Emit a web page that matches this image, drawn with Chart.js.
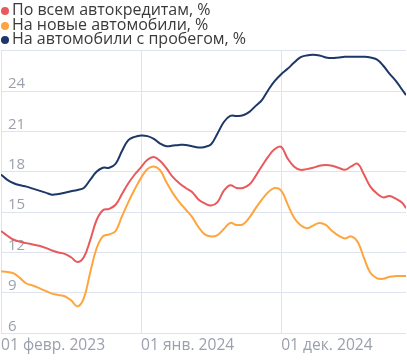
<!DOCTYPE html>
<html>
<head>
<meta charset="utf-8">
<script src="https://cdn.jsdelivr.net/npm/chart.js@4.4.1/dist/chart.umd.min.js"></script>
<style>
  html, body { margin: 0; padding: 0; background: #fff; }
  #wrap { position: relative; width: 407px; height: 360px; }
  #legend { position: absolute; left: 0; top: 2px; font-family: "Open Sans", sans-serif; font-size: 16px; color: #3a3a3a; line-height: 14.6px; }
  #legend div { white-space: nowrap; height: 14.6px; }
  #legend span.dot { display: inline-block; width: 8px; height: 8px; border-radius: 50%; margin: 0 3px 0 1px; vertical-align: 0px; }
</style>
</head>
<body>
<div id="wrap">
  <canvas id="c" width="407" height="360"></canvas>
  <div id="legend"></div>
</div>
<script>
// months since 01 Feb 2023 (half-month steps)
const months = [0,0.5,1,1.5,2,2.5,3,3.5,4,4.5,5,5.5,6,6.5,7,7.5,8,8.5,9,9.5,10,10.5,11,11.5,12,12.5,13,13.5,14,14.5,15,15.5,16,16.5,17,17.5,18,18.5,19,19.5,20,20.5,21,21.5,22,22.5,23,23.5,24,24.5,25,25.5,26,26.5,27,27.5,28,28.5,29,29.5,30,30.5,31,31.5,31.8];

const seriesNames = ["По всем автокредитам, %", "На новые автомобили, %", "На автомобили с пробегом, %"];

const allLoans = [13.6,13.25,12.95,12.8,12.7,12.6,12.5,12.35,12.15,12.0,11.9,11.65,11.3,11.65,12.9,14.4,15.15,15.25,15.55,16.35,17.15,17.8,18.35,18.9,19.1,18.8,18.25,17.6,17.15,16.8,16.5,15.95,15.65,15.5,15.75,16.6,17.0,16.8,16.8,17.05,17.7,18.45,19.15,19.7,19.85,19.0,18.4,18.15,18.2,18.3,18.45,18.5,18.45,18.3,18.15,18.4,18.6,17.8,16.9,16.4,16.1,16.2,16.0,15.7,15.3];

const newCars = [10.6,10.55,10.45,10.1,9.7,9.55,9.35,9.15,8.95,8.85,8.75,8.45,8.0,8.6,10.5,12.3,13.2,13.35,13.6,14.7,15.75,16.7,17.55,18.2,18.4,18.1,17.2,16.4,15.75,15.2,14.65,13.9,13.35,13.2,13.3,13.75,14.2,14.05,14.1,14.6,15.3,15.95,16.5,16.8,16.6,15.6,14.6,14.05,13.8,14.0,14.2,14.05,13.6,13.25,13.05,13.2,12.8,11.6,10.5,10.1,10.05,10.2,10.25,10.25,10.25];

const usedCars = [17.8,17.4,17.15,17.0,16.9,16.75,16.6,16.45,16.3,16.35,16.45,16.55,16.65,16.8,17.4,18.0,18.3,18.3,18.6,19.55,20.35,20.6,20.7,20.65,20.45,20.1,19.9,19.95,20.0,20.0,19.9,19.8,19.85,20.05,20.85,21.7,22.15,22.15,22.2,22.45,22.9,23.35,24.1,24.75,25.25,25.65,26.1,26.5,26.65,26.7,26.65,26.5,26.45,26.5,26.55,26.55,26.55,26.55,26.5,26.35,25.9,25.3,24.75,24.1,23.7];

const xTickValues = [0, 11, 22];
const xTickLabels = ["01 февр. 2023", "01 янв. 2024", "01 дек. 2024"];
const yMin = 6, yMax = 27, yStep = 3;

const colors = ["#e8595c", "#ffa53d", "#1c3768"];
const seriesData = [allLoans, newCars, usedCars];

const toPoints = arr => arr.map((v, i) => ({x: months[i], y: v}));

// HTML legend
const legendEl = document.getElementById('legend');
seriesNames.forEach((n, i) => {
  const d = document.createElement('div');
  d.innerHTML = '<span class="dot" style="background:' + colors[i] + '"></span>' + n;
  legendEl.appendChild(d);
});

const fontX = { family: "'Open Sans', sans-serif", size: 15.6 };
const fontY = { family: "'Open Sans', sans-serif", size: 15 };

new Chart(document.getElementById('c'), {
  type: 'line',
  data: {
    datasets: seriesData.map((arr, i) => ({
      label: seriesNames[i],
      data: toPoints(arr),
      borderColor: colors[i],
      backgroundColor: colors[i],
      borderWidth: 2,
      pointRadius: 0,
      tension: 0.4,
      fill: false
    }))
  },
  options: {
    responsive: false,
    animation: false,
    layout: { padding: { left: 1, right: 1, top: 50.7, bottom: 2 } },
    plugins: { legend: { display: false }, tooltip: { enabled: false } },
    scales: {
      x: {
        type: 'linear',
        min: 0,
        max: 31.8,
        afterBuildTicks: s => { s.ticks = xTickValues.map(v => ({ value: v })); },
        afterFit: s => { s.paddingLeft = 0; s.paddingRight = 0; },
        ticks: {
          align: 'start',
          padding: 3,
          color: '#9ba0ac',
          font: fontX,
          maxRotation: 0,
          autoSkip: false,
          callback: v => { const k = xTickValues.indexOf(v); return k >= 0 ? xTickLabels[k] : ''; }
        },
        grid: { color: '#dfe3ef', drawTicks: false, lineWidth: 1 },
        border: { display: false }
      },
      y: {
        min: yMin,
        max: yMax,
        afterFit: s => { s.width = 0; s.paddingTop = 0; s.paddingBottom = 0; },
        ticks: {
          stepSize: yStep,
          mirror: true,
          padding: 7,
          labelOffset: -7,
          color: '#9ba0ac',
          font: fontY,
          callback: v => (v === yMax ? '' : String(v))
        },
        grid: { color: '#dfe3ef', drawTicks: false, lineWidth: 1 },
        border: { display: false }
      }
    }
  }
});
</script>
</body>
</html>
